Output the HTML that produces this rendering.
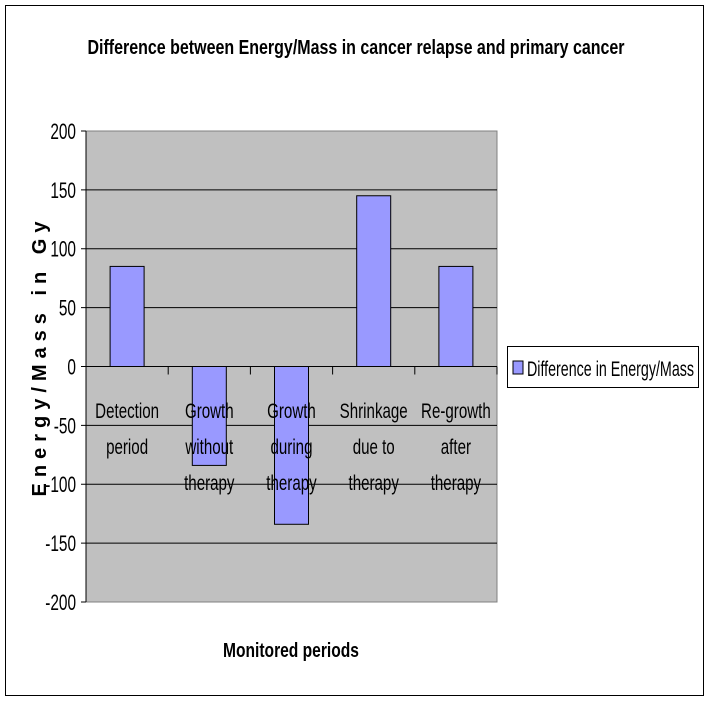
<!DOCTYPE html>
<html><head><meta charset="utf-8"><style>
body{margin:0;background:#fff;}
svg text{font-family:"Liberation Sans",sans-serif;fill:#000;}
</style></head><body>
<svg width="710" height="707" viewBox="0 0 710 707" xmlns="http://www.w3.org/2000/svg">
<rect x="5.5" y="5.5" width="698" height="690" fill="#fff" stroke="#000" stroke-width="1"/>
<text class="n" data-f="0.8" x="356" y="54" text-anchor="middle" font-size="20" font-weight="bold">Difference between Energy/Mass in cancer relapse and primary cancer</text>
<rect x="86" y="131" width="411" height="471" fill="#c0c0c0" stroke="#808080" stroke-width="1"/>
<g id="grid"></g>
<g id="bars"></g>
<g id="labels"></g>
<text transform="translate(46,356) rotate(-90)" text-anchor="middle" font-size="20" font-weight="bold" letter-spacing="6">Energy/Mass in Gy</text>
<text class="n" data-f="0.78" x="291" y="657" text-anchor="middle" font-size="20" font-weight="bold">Monitored periods</text>
<g>
<rect x="507.5" y="346.5" width="191" height="41" fill="#fff" stroke="#000"/>
<rect x="513" y="361" width="10" height="13" fill="#9999ff" stroke="#000"/>
<text class="n" data-f="0.68" x="527" y="376" font-size="21">Difference in Energy/Mass</text>
</g>
</svg>
<script>
const categories=[["Detection","period"],["Growth","without","therapy"],["Growth","during","therapy"],["Shrinkage","due to","therapy"],["Re-growth","after","therapy"]];
const values=[85,-84,-134,145,85];
const ticks=[200,150,100,50,0,-50,-100,-150,-200];
const NS="http://www.w3.org/2000/svg";
const X0=86,X1=497,Y0=131,Y1=602,vmin=-200,vmax=200;
function y(v){return Y0+(vmax-v)/(vmax-vmin)*(Y1-Y0);}
function xc(i){return X0+(i+0.5)*(X1-X0)/categories.length;}
function mk(t,a,p){const e=document.createElementNS(NS,t);for(const k in a)e.setAttribute(k,a[k]);p.appendChild(e);return e;}
const g=document.getElementById('grid');
ticks.forEach(t=>{
  if(t!==200&&t!==-200&&t!==0){const l=mk('line',{x1:X0,x2:X1,y1:y(t),y2:y(t),stroke:'#000','stroke-width':1},g);
  
  }
  const tk=mk('line',{x1:X0-5,x2:X0,y1:y(t),y2:y(t),stroke:'#000'},g);
  
  
  const tx=mk('text',{x:X0-10,y:y(t)+8,'text-anchor':'end','font-size':22,'class':'n','data-f':0.7},g);tx.textContent=t;
  
  
});
const b=document.getElementById('bars');
values.forEach((v,i)=>{
  const top=Math.min(y(v),y(0)),h=Math.abs(y(v)-y(0));
  const r=mk('rect',{x:xc(i)-17,y:top,width:34,height:h,fill:'#9999ff',stroke:'#000','stroke-width':1},b);
  
  
});
const ax=mk('line',{x1:X0,x2:X1,y1:y(0),y2:y(0),stroke:'#000'},b);


const ay=mk('line',{x1:X0,x2:X0,y1:Y0,y2:Y1,stroke:'#000'},b);


for(let i=1;i<=categories.length;i++){
  const t=mk('line',{x1:X0+i*(X1-X0)/categories.length,x2:X0+i*(X1-X0)/categories.length,y1:y(0),y2:y(0)+8,stroke:'#000'},b);
  
  
}
const lb=document.getElementById('labels');
categories.forEach((c,i)=>{
  c.forEach((line,j)=>{
    const t=mk('text',{x:xc(i),y:418+j*36,'text-anchor':'middle','font-size':21,'class':'n','data-f':0.72},lb);t.textContent=line;
    
    
  });
});
document.querySelectorAll('text.n').forEach(t=>{
  const f=+t.getAttribute('data-f'),x=+t.getAttribute('x');
  t.setAttribute('transform','translate('+x+',0) scale('+f+',1) translate('+(-x)+',0)');
});
</script>
</body></html>
